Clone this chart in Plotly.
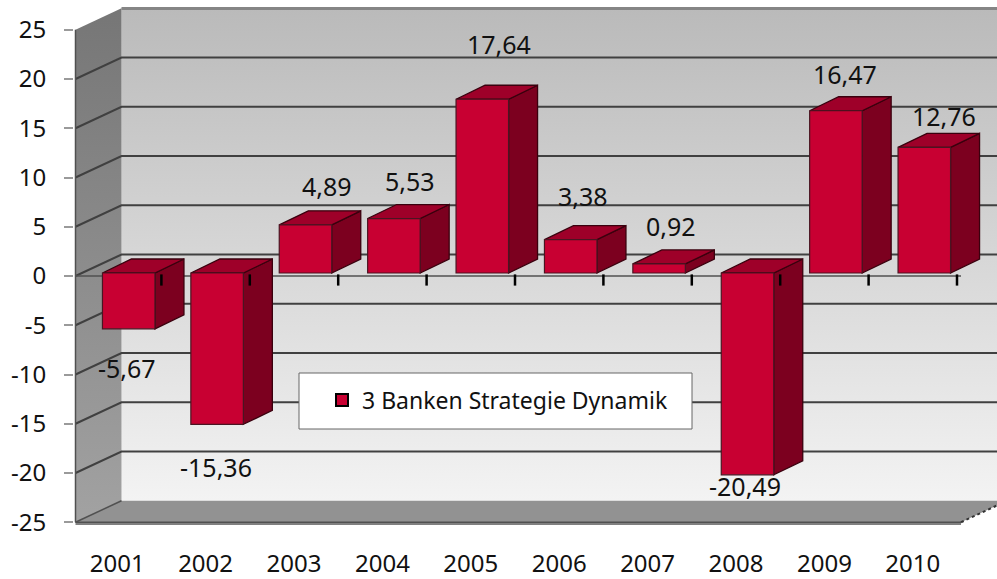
import plotly.graph_objects as go

years = ["2001","2002","2003","2004","2005","2006","2007","2008","2009","2010"]
values = [-5.67,-15.36,4.89,5.53,17.64,3.38,0.92,-20.49,16.47,12.76]
value_labels = ["-5,67","-15,36","4,89","5,53","17,64","3,38","0,92","-20,49","16,47","12,76"]
label_shift_x = [10,10,33,28,28,24,23,9,21,31]
label_shift_y = [-36,-40,42,41,58,47,41,-8,40,34]
y_ticks = [-25,-20,-15,-10,-5,0,5,10,15,20,25]
y_tick_text = ["-25","-20","-15","-10","-5","0","5","10","15","20","25"]
series_name = "3 Banken Strategie Dynamik"

FONT = "Noto Sans"
PX_X, PX_Y = 88.4, 9.85
CX0, Y0 = 117.2, 276.0
L, R, T, B = 74, 0, 5, 54
W, H = 997, 579
def ux(px): return (px - CX0) / PX_X
def uy(py): return (Y0 - py) / PX_Y

x_left = ux(75.5); x_right = ux(961)
wall_dx = 46 / PX_X; wall_dy = 21.5 / PX_Y
bar_dx = 29 / PX_X; bar_dy = 14 / PX_Y
bar_w = 52.5 / PX_X; bar_shift = 11.5 / PX_X; bar_base = 3 / PX_Y
x_max = ux(W)

fig = go.Figure()
def poly(xs, ys, z, color=None, grad=None, line=None, lw=0):
    kw = dict(fillcolor=color) if color else dict(fillgradient=dict(type="vertical", colorscale=grad))
    fig.add_trace(go.Scatter(x=xs, y=ys, mode="lines", fill="toself", zorder=z, showlegend=False,
                             hoverinfo="skip", line=dict(color=line or "rgba(0,0,0,0)", width=lw), **kw))

# walls
poly([x_left+wall_dx, x_max, x_max, x_left+wall_dx, x_left+wall_dx],
     [-25+wall_dy, -25+wall_dy, 25+wall_dy, 25+wall_dy, -25+wall_dy], 0,
     grad=[[0,"#f3f3f3"],[1,"#bababa"]])
poly([x_left, x_left+wall_dx, x_left+wall_dx, x_left, x_left],
     [-25, -25+wall_dy, 25+wall_dy, 25, -25], 0,
     grad=[[0,"#a2a2a2"],[1,"#767676"]])
poly([x_left, x_right, x_right+wall_dx, x_left+wall_dx, x_left],
     [-25, -25, -25+wall_dy, -25+wall_dy, -25], 0, color="#929292")
# top strip and front floor strip
poly([x_left+wall_dx, x_max, x_max, x_left+wall_dx, x_left+wall_dx],
     [uy(10), uy(10), uy(7), uy(7), uy(10)], 0, color="#858585")
poly([x_left, x_right, x_right, x_left, x_left],
     [uy(522), uy(522), uy(525), uy(525), uy(522)], 0, color="#808080")

# gridlines
gx, gy = [], []
for v in y_ticks[1:-1]:
    gx += [x_left, x_left+wall_dx, x_max, None]
    gy += [v, v+wall_dy, v+wall_dy, None]
fig.add_trace(go.Scatter(x=gx, y=gy, mode="lines", zorder=1, showlegend=False, hoverinfo="skip",
                         line=dict(color="#404040", width=2)))
# frame lines: left edge, floor edges, axis line
fig.add_trace(go.Scatter(x=[x_left,x_left,None,x_left,x_left+wall_dx,None,x_left,x_right,None,x_left,x_right],
                         y=[-25,25,None,-25,-25+wall_dy,None,-25,-25,None,0,0],
                         mode="lines", zorder=1, showlegend=False, hoverinfo="skip",
                         line=dict(color="#505050", width=1.5)))
# dotted right floor edge
fig.add_trace(go.Scatter(x=[x_right, x_right+wall_dx], y=[-25, -25+wall_dy],
                         mode="lines", zorder=1, showlegend=False, hoverinfo="skip",
                         line=dict(color="#333333", width=2, dash="dot")))

# bar side and top faces
sx, sy, tx, ty = [], [], [], []
for i, v in enumerate(values):
    x0 = i + bar_shift - bar_w/2; x1 = i + bar_shift + bar_w/2
    top = bar_base + max(v, 0); bot = bar_base + min(v, 0)
    sx += [x1, x1+bar_dx, x1+bar_dx, x1, x1, None]
    sy += [top, top+bar_dy, bot+bar_dy, bot, top, None]
    tx += [x0, x1, x1+bar_dx, x0+bar_dx, x0, None]
    ty += [top, top, top+bar_dy, top+bar_dy, top, None]
fig.add_trace(go.Scatter(x=sx, y=sy, mode="lines", fill="toself", fillcolor="#7c001f", zorder=2,
                         showlegend=False, hoverinfo="skip", line=dict(color="#3a000e", width=1.3)))
fig.add_trace(go.Scatter(x=tx, y=ty, mode="lines", fill="toself", fillcolor="#9e0029", zorder=2,
                         showlegend=False, hoverinfo="skip", line=dict(color="#3a000e", width=1.3)))
# front faces
fig.add_trace(go.Bar(x=[i + bar_shift for i in range(len(values))], y=values, base=bar_base, width=bar_w,
                     marker=dict(color="#c80032", line=dict(color="#4a1522", width=1.2)), zorder=3,
                     showlegend=False, hoverinfo="skip"))
# legend entry
fig.add_trace(go.Bar(x=[None], y=[None], name=series_name, zorder=3,
                     marker=dict(color="#c80032", line=dict(color="#000000", width=2))))
# category boundary ticks
fig.add_trace(go.Scatter(x=[i-0.5 for i in range(len(values)+1)], y=[uy(280)]*(len(values)+1),
                         mode="markers", cliponaxis=False, zorder=4, showlegend=False, hoverinfo="skip",
                         marker=dict(symbol="line-ns", size=8, line=dict(color="#000000", width=2.5))))

ann = [dict(x=i, y=v, text=t, xshift=dx, yshift=dy, showarrow=False, xanchor="center", yanchor="middle",
            font=dict(family=FONT, size=25, color="#111111"))
       for i,(v,t,dx,dy) in enumerate(zip(values,value_labels,label_shift_x,label_shift_y))]

pw, ph = W-L-R, H-T-B
def pxf(px): return (px-L)/pw
def pyf(py): return 1-(py-T)/ph

fig.update_layout(
    width=W, height=H, autosize=False, margin=dict(l=L,r=R,t=T,b=B,pad=0,autoexpand=False),
    paper_bgcolor="#ffffff", plot_bgcolor="#ffffff", barmode="overlay", annotations=ann,
    xaxis=dict(range=[ux(L), ux(W)], tickmode="array", tickvals=list(range(len(years))), ticktext=years,
               automargin=False,
               showgrid=False, zeroline=False, showline=False, ticks="", ticklabelstandoff=22,
               tickfont=dict(family=FONT, size=24, color="#111111")),
    yaxis=dict(range=[uy(H-B), uy(T)], tickmode="array", tickvals=y_ticks, ticktext=y_tick_text,
               automargin=False,
               showgrid=False, zeroline=False, showline=False, ticks="outside", ticklen=9, tickwidth=1.5,
               tickcolor="#9a9a9a", ticklabelstandoff=13,
               tickfont=dict(family=FONT, size=24, color="#111111")),
    shapes=[dict(type="rect", xref="paper", yref="paper", x0=pxf(299), x1=pxf(692), y0=pyf(429), y1=pyf(373),
                 fillcolor="#ffffff", line=dict(color="#666666", width=1), layer="above")],
    legend=dict(x=pxf(322), y=pyf(400), xanchor="left", yanchor="middle", bgcolor="rgba(0,0,0,0)",
                font=dict(family=FONT, size=23, color="#111111"), itemwidth=30),
    showlegend=True,
)
fig.write_html("out.html", config=dict(displayModeBar=False),
               post_script="document.body.style.margin='0';document.documentElement.style.overflow='hidden';")
